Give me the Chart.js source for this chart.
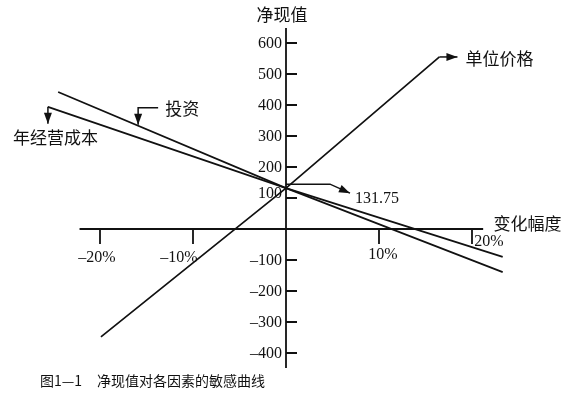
<!DOCTYPE html>
<html>
<head>
<meta charset="utf-8">
<script src="https://cdn.jsdelivr.net/npm/chart.js@4"></script>
<style>
  body { margin: 0; background: #fff; }
  #wrap { width: 586px; height: 397px; }
</style>
</head>
<body>
<div id="wrap"><canvas id="myChart"></canvas></div>
<script>
// values (x = change in %, y = NPV)
var costX = [-25.6, 0, 23.3];
var costNPV = [394, 131.75, -90];
var investX = [-24.5, 0, 23.3];
var investNPV = [442, 131.75, -139];
var priceX = [-19.9, 0, 16.5];
var priceNPV = [-348, 131.75, 555];

var xTicks = [-20, -10, 10, 20];
var xTickLabels = ['\u201320%', '\u201310%', '10%', '20%'];
var yTicks = [600, 500, 400, 300, 200, 100, -100, -200, -300, -400];
var yTickLabels = ['600', '500', '400', '300', '200', '100', '\u2013100', '\u2013200', '\u2013300', '\u2013400'];

var seriesNames = ['年经营成本', '投资', '单位价格'];

function toPoints(xs, ys) {
    return xs.map(function(x, i) { return {x: x, y: ys[i]}; });
}

var serif = '16px "Liberation Serif", serif';
var cjk = '17px "Noto Sans CJK SC", sans-serif';

function arrowHead(ctx, x1, y1, x2, y2) {
    var a = Math.atan2(y2 - y1, x2 - x1);
    var len = 11, w = 4;
    ctx.beginPath();
    ctx.moveTo(x2, y2);
    ctx.lineTo(x2 - len * Math.cos(a) + w * Math.sin(a), y2 - len * Math.sin(a) - w * Math.cos(a));
    ctx.lineTo(x2 - len * Math.cos(a) - w * Math.sin(a), y2 - len * Math.sin(a) + w * Math.cos(a));
    ctx.closePath();
    ctx.fill();
}

function polyArrow(ctx, pts) {
    ctx.beginPath();
    ctx.moveTo(pts[0][0], pts[0][1]);
    for (var i = 1; i < pts.length; i++) ctx.lineTo(pts[i][0], pts[i][1]);
    ctx.stroke();
    var n = pts.length;
    arrowHead(ctx, pts[n - 2][0], pts[n - 2][1], pts[n - 1][0], pts[n - 1][1]);
}

// y on a drawn series at a given pixel x
function yOnLine(meta, px) {
    var d = meta.data;
    for (var i = 0; i < d.length - 1; i++) {
        if (px >= d[i].x && px <= d[i + 1].x) {
            var t = (px - d[i].x) / (d[i + 1].x - d[i].x);
            return d[i].y + t * (d[i + 1].y - d[i].y);
        }
    }
    return d[0].y;
}

var axesPlugin = {
    id: 'crossAxes',
    beforeDatasetsDraw: function(chart) {
        var ctx = chart.ctx;
        var xs = chart.scales.x, ys = chart.scales.y;
        var x0 = xs.getPixelForValue(0), y0 = ys.getPixelForValue(0);
        ctx.save();
        ctx.strokeStyle = '#111';
        ctx.lineWidth = 1.8;
        ctx.beginPath();
        ctx.moveTo(xs.getPixelForValue(-22.2), y0);
        ctx.lineTo(xs.getPixelForValue(21.2), y0);
        ctx.moveTo(x0, ys.getPixelForValue(648));
        ctx.lineTo(x0, ys.getPixelForValue(-448));
        yTicks.forEach(function(v) {
            var py = Math.round(ys.getPixelForValue(v));
            ctx.moveTo(x0, py);
            ctx.lineTo(x0 + 11, py);
        });
        xTicks.forEach(function(v) {
            var px = Math.round(xs.getPixelForValue(v));
            ctx.moveTo(px, y0);
            ctx.lineTo(px, y0 + 15);
        });
        ctx.stroke();

        ctx.fillStyle = '#111';
        ctx.font = serif;
        ctx.textBaseline = 'middle';
        ctx.textAlign = 'right';
        yTicks.forEach(function(v, i) {
            var dy = v === 100 ? -4 : 1;
            ctx.fillText(yTickLabels[i], x0 - 4, ys.getPixelForValue(v) + dy);
        });
        var xOff = [[-3, 29], [-14, 29], [4, 26], [17, 13]];
        ctx.textAlign = 'center';
        xTicks.forEach(function(v, i) {
            ctx.fillText(xTickLabels[i], xs.getPixelForValue(v) + xOff[i][0], y0 + xOff[i][1]);
        });
        ctx.restore();
    },
    afterDraw: function(chart) {
        var ctx = chart.ctx;
        var xs = chart.scales.x, ys = chart.scales.y;
        var x0 = xs.getPixelForValue(0), y0 = ys.getPixelForValue(0);
        var cost = chart.getDatasetMeta(0), invest = chart.getDatasetMeta(1), price = chart.getDatasetMeta(2);
        ctx.save();
        ctx.strokeStyle = '#111';
        ctx.fillStyle = '#111';
        ctx.lineWidth = 1.5;
        ctx.textBaseline = 'middle';
        ctx.textAlign = 'left';

        // axis titles
        ctx.font = cjk;
        ctx.textAlign = 'center';
        ctx.fillText('净现值', x0 - 4, 15);
        ctx.textAlign = 'left';
        ctx.fillText('变化幅度', xs.getPixelForValue(22.3), y0 - 5);

        // 单位价格
        var pe = price.data[2];
        polyArrow(ctx, [[pe.x, pe.y], [pe.x + 18, pe.y]]);
        ctx.fillText(seriesNames[2], pe.x + 26, pe.y + 2);

        // 投资
        var ax = xs.getPixelForValue(-15.9);
        var ay = yOnLine(invest, ax);
        polyArrow(ctx, [[ax + 20, ay - 18], [ax, ay - 18], [ax, ay - 1]]);
        ctx.fillText(seriesNames[1], ax + 27, ay - 17);

        // 年经营成本
        var cs = cost.data[0];
        polyArrow(ctx, [[cs.x, cs.y], [cs.x, cs.y + 17]]);
        ctx.fillText(seriesNames[0], 13, cs.y + 31);

        // 131.75
        var c = price.data[1];
        polyArrow(ctx, [[c.x, c.y - 4], [c.x + 44, c.y - 4], [c.x + 64, c.y + 5]]);
        ctx.font = serif;
        ctx.fillText('131.75', c.x + 69, c.y + 11);

        // caption
        ctx.font = '14px "Noto Sans CJK SC", sans-serif';
        ctx.fillText('图1—1', 40, 381);
        ctx.fillText('净现值对各因素的敏感曲线', 97, 381);
        ctx.restore();
    }
};

var ctx = document.getElementById('myChart').getContext('2d');
var lineStyle = { borderColor: '#111', borderWidth: 1.7, pointRadius: 0, showLine: true, fill: false, tension: 0 };

var myChart = new Chart(ctx, {
    type: 'scatter',
    data: {
        datasets: [
            Object.assign({ label: seriesNames[0], data: toPoints(costX, costNPV) }, lineStyle),
            Object.assign({ label: seriesNames[1], data: toPoints(investX, investNPV) }, lineStyle),
            Object.assign({ label: seriesNames[2], data: toPoints(priceX, priceNPV) }, lineStyle)
        ]
    },
    options: {
        responsive: true,
        maintainAspectRatio: false,
        animation: false,
        layout: { padding: { left: 7, right: 21, top: 12, bottom: 13 } },
        scales: {
            x: { type: 'linear', min: -30, max: 30, display: false },
            y: { type: 'linear', min: -500, max: 700, display: false }
        },
        plugins: {
            legend: { display: false },
            tooltip: { enabled: false }
        }
    },
    plugins: [axesPlugin]
});
</script>
</body>
</html>
